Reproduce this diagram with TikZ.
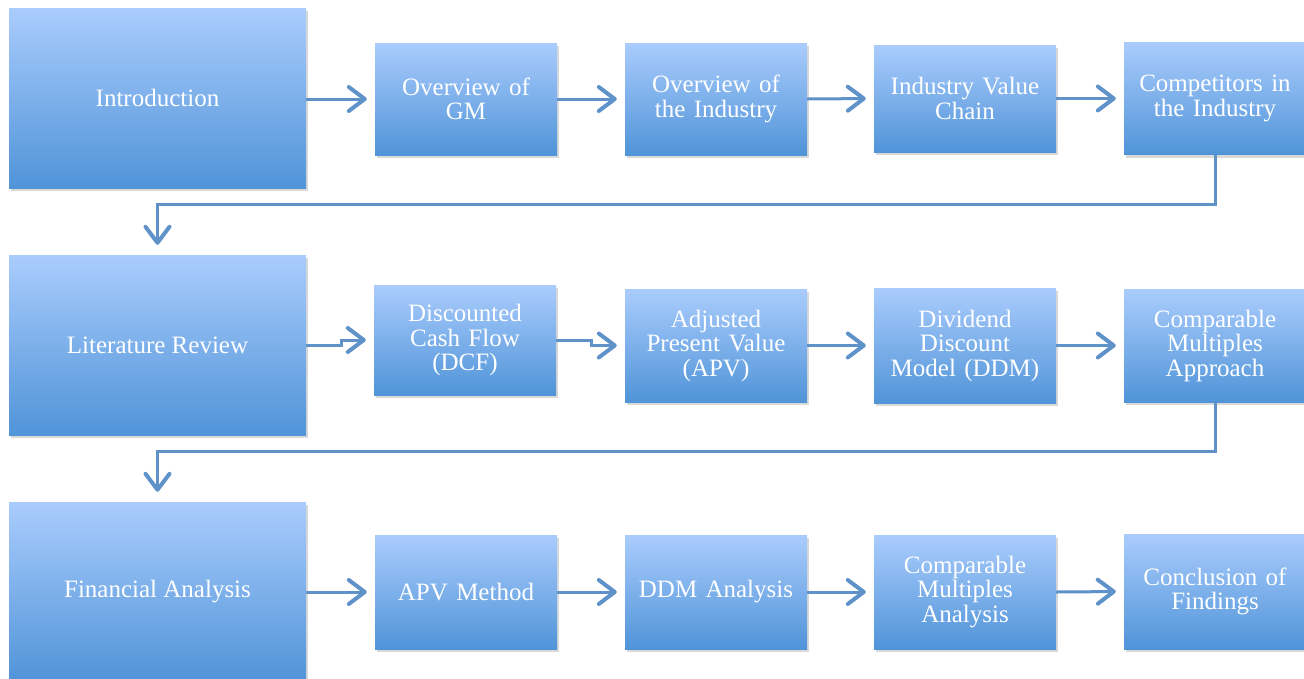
\documentclass[tikz,border=0pt]{standalone}
\usepackage{fontspec}
\setmainfont{Liberation Serif}
\usetikzlibrary{positioning,arrows.meta,shadows}

\definecolor{boxtop}{RGB}{170,204,253}
\definecolor{boxbottom}{RGB}{80,148,216}
\definecolor{linkblue}{RGB}{96,146,202}

\tikzset{
  box/.style={rectangle, top color=boxtop, bottom color=boxbottom,
    text=white, align=center, inner sep=2pt,
    font=\fontsize{25}{24.5}\selectfont,
    drop shadow={opacity=0.3, shadow xshift=2pt, shadow yshift=-3pt}},
  bigbox/.style={box, minimum width=297pt, minimum height=180pt},
  smallbox/.style={box, minimum width=182pt, minimum height=112pt, text width=178pt},
  arr/.style={draw=linkblue, line width=3pt, shorten >=8pt,
    -{Straight Barb[length=16pt, width=24pt, line width=4pt, round]}},
  link/.style={arr, shorten >=10pt}
}

\begin{document}
\begin{tikzpicture}[x=1pt,y=-1pt]
\useasboundingbox (0,0) rectangle (1304,678);
\clip (0,0) rectangle (1304,678);

% first row
\node[bigbox] (intro) at (157.5,98) {Introduction};
\node[smallbox] (gm) at (466,99) {Overview of\\GM};
\node[smallbox] (ind) at (716,99) {Overview of\\the Industry};
\node[smallbox, minimum height=107pt] (chain) at (965,98.5) {Industry Value\\Chain};
\node[smallbox] (comp) at (1215,98.5) {Competitors in\\the Industry};

% second row
\node[bigbox] (lit) at (157.5,345) {Literature Review};
\node[smallbox, minimum height=110pt] (dcf) at (465,340) {Discounted\\Cash Flow\\(DCF)};
\node[smallbox, minimum height=113pt] (apv) at (716,345.5) {Adjusted\\Present Value\\(APV)};
\node[smallbox, minimum height=115pt] (ddm) at (965,345.5) {Dividend\\Discount\\Model (DDM)};
\node[smallbox, minimum height=113pt] (cma) at (1215,345.5) {Comparable\\Multiples\\Approach};

% third row
\node[bigbox] (fin) at (157.5,592) {Financial Analysis};
\node[smallbox, minimum height=114pt] (apvm) at (466,592) {APV Method};
\node[smallbox, minimum height=114pt] (ddma) at (716,592) {DDM Analysis};
\node[smallbox, minimum height=114pt] (cmpa) at (965,592) {Comparable\\Multiples\\Analysis};
\node[smallbox, minimum height=115pt] (concl) at (1215,591.5) {Conclusion of\\Findings};

% links along the rows
\draw[arr] (intro.east |- gm.west) -- (gm.west);
\draw[arr] (gm.east) -- (ind.west);
\draw[arr] (ind.east) -- (chain.west);
\draw[arr] (chain.east) -- (comp.west);

\draw[arr] (lit.east) -- ++(35,0) |- (dcf.west);
\draw[arr] (dcf.east) -- ++(35,0) |- (apv.west);
\draw[arr] (apv.east) -- (ddm.west);
\draw[arr] (ddm.east) -- (cma.west);

\draw[arr] (fin.east |- apvm.west) -- (apvm.west);
\draw[arr] (apvm.east) -- (ddma.west);
\draw[arr] (ddma.east) -- (cmpa.west);
\draw[arr] (cmpa.east) -- (concl.west);

% links between the rows
\draw[link] (comp.south) -- ++(0,50) -| (lit.north);
\draw[link] (cma.south) -- ++(0,49) -| (fin.north);
\end{tikzpicture}
\end{document}
